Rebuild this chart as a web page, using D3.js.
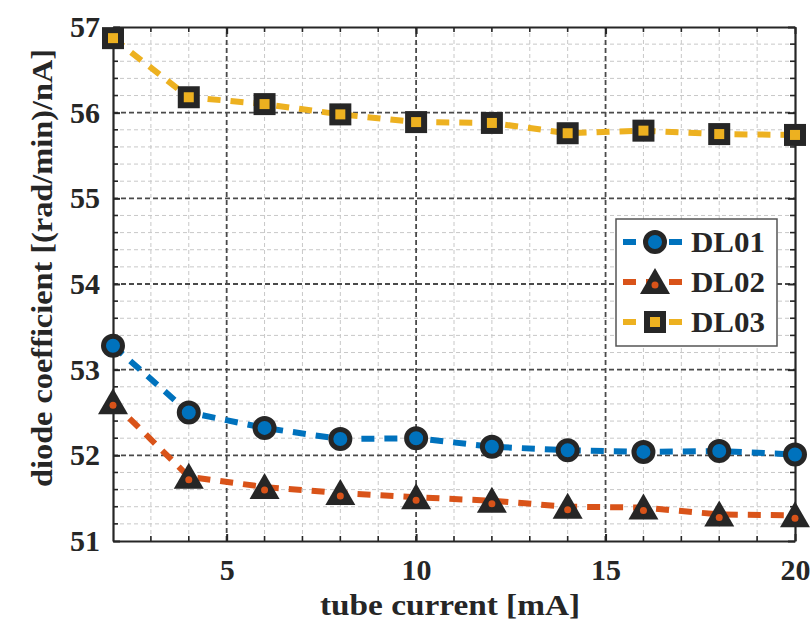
<!DOCTYPE html>
<html>
<head>
<meta charset="utf-8">
<script src="https://cdn.jsdelivr.net/npm/d3@7"></script>
<style>
  body{margin:0;background:#fff;}
  text{font-family:"Liberation Serif","DejaVu Serif",serif;font-weight:bold;fill:#262626;}
</style>
</head>
<body>
<div id="grafico"></div>
<script>
// valores
const correntes=[2,4,6,8,10,12,14,16,18,20];
const dl01=[53.28,52.50,52.32,52.19,52.20,52.10,52.06,52.04,52.05,52.01];
const dl02=[52.62,51.75,51.63,51.56,51.51,51.47,51.40,51.39,51.31,51.30];
const dl03=[56.87,56.18,56.10,55.98,55.89,55.88,55.76,55.79,55.75,55.74];
const nomes=['DL01','DL02','DL03'];
const cores=['#0072BD','#D95319','#EDB120'];
const ticksX=[5,10,15,20];
const ticksY=[51,52,53,54,55,56,57];

const W=810, H=629;
const m={l:113,r:15,t:27,b:88};

const svg=d3.select('#grafico').append('svg')
  .attr('width',W).attr('height',H);

const x=d3.scaleLinear().domain([2,20]).range([m.l,W-m.r]);
const y=d3.scaleLinear().domain([51,57]).range([H-m.b,m.t]);

const escuro='#262626';

// grade menor
const minX=d3.range(3,20,1).filter(v=>v%5!==0);
const minY=d3.range(51.2,57,0.2).filter(v=>Math.abs(v-Math.round(v))>0.01);
const grade=svg.append('g');
grade.selectAll('.gmx').data(minX).join('line')
  .attr('x1',d=>x(d)).attr('x2',d=>x(d)).attr('y1',y(51)).attr('y2',y(57))
  .attr('stroke','#c8c8c8').attr('stroke-width',1).attr('stroke-dasharray','4,3');
grade.selectAll('.gmy').data(minY).join('line')
  .attr('y1',d=>y(d)).attr('y2',d=>y(d)).attr('x1',x(2)).attr('x2',x(20))
  .attr('stroke','#c8c8c8').attr('stroke-width',1).attr('stroke-dasharray','4,3');
// grade maior
grade.selectAll('.gMx').data(ticksX.filter(v=>v<20)).join('line')
  .attr('x1',d=>x(d)).attr('x2',d=>x(d)).attr('y1',y(51)).attr('y2',y(57))
  .attr('stroke','#4a4a4a').attr('stroke-width',1.8).attr('stroke-dasharray','5,3');
grade.selectAll('.gMy').data(ticksY.slice(1,-1)).join('line')
  .attr('y1',d=>y(d)).attr('y2',d=>y(d)).attr('x1',x(2)).attr('x2',x(20))
  .attr('stroke','#4a4a4a').attr('stroke-width',1.8).attr('stroke-dasharray','5,3');

// eixos (ticks para dentro, caixa fechada)
const fmt=d3.format('d');
const eixoB=d3.axisBottom(x).tickValues(ticksX).tickFormat(fmt).tickSizeInner(-7).tickSizeOuter(0).tickPadding(18);
const eixoL=d3.axisLeft(y).tickValues(ticksY).tickFormat(fmt).tickSizeInner(-7).tickSizeOuter(0).tickPadding(13);
const eixoT=d3.axisTop(x).tickValues(ticksX).tickFormat('').tickSizeInner(-7).tickSizeOuter(0);
const eixoR=d3.axisRight(y).tickValues(ticksY).tickFormat('').tickSizeInner(-7).tickSizeOuter(0);

function estiliza(g){
  g.select('.domain').attr('stroke',escuro).attr('stroke-width',2.2);
  g.selectAll('.tick line').attr('stroke',escuro).attr('stroke-width',2);
  g.selectAll('.tick text').style('font-size','30px').attr('fill',escuro);
}
svg.append('g').attr('transform',`translate(0,${y(51)})`).call(eixoB).call(estiliza);
svg.append('g').attr('transform',`translate(${x(2)},0)`).call(eixoL).call(estiliza);
svg.append('g').attr('transform',`translate(0,${y(57)})`).call(eixoT).call(estiliza);
svg.append('g').attr('transform',`translate(${x(20)},0)`).call(eixoR).call(estiliza);

// ticks menores
const tm=svg.append('g').attr('stroke',escuro).attr('stroke-width',1.6);
minX.concat([5,10,15]).forEach(v=>{
  tm.append('line').attr('x1',x(v)).attr('x2',x(v)).attr('y1',y(51)).attr('y2',y(51)-5);
  tm.append('line').attr('x1',x(v)).attr('x2',x(v)).attr('y1',y(57)).attr('y2',y(57)+5);
});
minY.forEach(v=>{
  tm.append('line').attr('y1',y(v)).attr('y2',y(v)).attr('x1',x(2)).attr('x2',x(2)+5);
  tm.append('line').attr('y1',y(v)).attr('y2',y(v)).attr('x1',x(20)).attr('x2',x(20)-5);
});

// rótulos dos eixos
svg.append('text').attr('x',450).attr('y',615)
  .attr('text-anchor','middle').style('font-size','30px')
  .attr('textLength',260).attr('lengthAdjust','spacingAndGlyphs')
  .text('tube current [mA]');
svg.append('text').attr('transform',`translate(52,268) rotate(-90)`)
  .attr('text-anchor','middle').style('font-size','30px')
  .attr('textLength',438).attr('lengthAdjust','spacingAndGlyphs')
  .text('diode coefficient [(rad/min)/nA]');

// marcadores
function marcador(g,i,px,py){
  if(i===0){
    g.append('circle').attr('cx',px).attr('cy',py).attr('r',9.5)
      .attr('fill',cores[0]).attr('stroke',escuro).attr('stroke-width',5);
  }else if(i===1){
    const s=15;
    g.append('path')
      .attr('d',`M${px},${py-s+1}L${px+s},${py+s*0.8}L${px-s},${py+s*0.8}Z`)
      .attr('fill',escuro);
    g.append('circle').attr('cx',px).attr('cy',py+3).attr('r',3.5).attr('fill',cores[1]);
  }else{
    g.append('rect').attr('x',px-11).attr('y',py-11).attr('width',22).attr('height',22)
      .attr('fill',escuro);
    g.append('rect').attr('x',px-5).attr('y',py-5).attr('width',10).attr('height',10)
      .attr('fill',cores[2]);
  }
}

const series=[dl01,dl02,dl03];
const linha=d3.line().x(d=>x(d[0])).y(d=>y(d[1]));
series.forEach((s,i)=>{
  const pts=correntes.map((c,k)=>[c,s[k]]);
  svg.append('path').datum(pts).attr('d',linha)
    .attr('fill','none').attr('stroke',cores[i]).attr('stroke-width',6)
    .attr('stroke-dasharray','13,10');
  const g=svg.append('g');
  pts.forEach(p=>marcador(g,i,x(p[0]),y(p[1])));
});

// legenda
const lg=svg.append('g');
lg.append('rect').attr('x',616).attr('y',219).attr('width',161).attr('height',127)
  .attr('fill','#fff').attr('stroke','#555').attr('stroke-width',1.5);
nomes.forEach((n,i)=>{
  const ly=242+i*40;
  lg.append('line').attr('x1',623).attr('x2',687).attr('y1',ly).attr('y2',ly)
    .attr('stroke',cores[i]).attr('stroke-width',6).attr('stroke-dasharray','13,10');
  marcador(lg,i,655,ly);
  lg.append('text').attr('x',691).attr('y',ly+10).style('font-size','30px')
    .attr('textLength',74).attr('lengthAdjust','spacingAndGlyphs').text(n);
});
</script>
</body>
</html>
